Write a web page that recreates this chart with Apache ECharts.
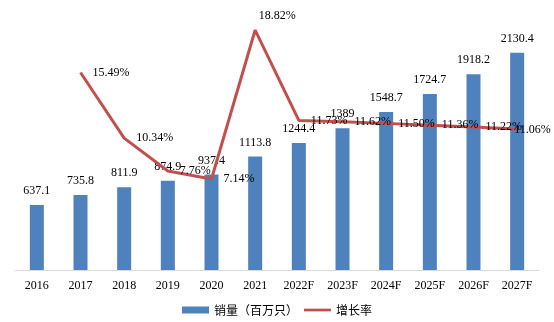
<!DOCTYPE html>
<html>
<head>
<meta charset="utf-8">
<script src="https://cdn.jsdelivr.net/npm/echarts@6/dist/echarts.min.js"></script>
<style>
  html, body { margin: 0; padding: 0; background: #fff; }
  #chart { width: 554px; height: 322px; }
</style>
</head>
<body>
<div id="chart"></div>
<script>
// Years (F = forecast)
const categories = ['2016', '2017', '2018', '2019', '2020', '2021', '2022F', '2023F', '2024F', '2025F', '2026F', '2027F'];
// Sales volume, millions of units
const sales = [637.1, 735.8, 811.9, 874.9, 937.4, 1113.8, 1244.4, 1389, 1548.7, 1724.7, 1918.2, 2130.4];
// Year-on-year growth, %
const growth = [null, 15.49, 10.34, 7.76, 7.14, 18.82, 11.73, 11.62, 11.50, 11.36, 11.22, 11.06];

const seriesNames = ['销量（百万只）', '增长率'];

const serif = '"Times New Roman", "Liberation Serif", serif';
const cjk = '"Noto Sans CJK SC", sans-serif';

// Growth points: the peak label sits above the point, the last one is pulled
// back inside the chart edge; the rest go to the right of their point.
const growthData = growth.map((v, i) => {
  if (v === null) return '-';
  if (categories[i] === '2021') {
    return { value: v, label: { position: 'top', distance: 8, offset: [22, 0] } };
  }
  if (i === categories.length - 1) {
    return { value: v, label: { position: 'right', distance: 0, offset: [-3, 1] } };
  }
  return v;
});

const chart = echarts.init(document.getElementById('chart'));
chart.setOption({
  animation: false,
  grid: { left: 15, right: 15, top: 15, bottom: 52 },
  legend: {
    bottom: 1,
    left: 'center',
    itemGap: 6,
    itemWidth: 27,
    itemHeight: 7,
    textStyle: { fontFamily: cjk, fontSize: 12, color: '#000' },
    data: [
      { name: seriesNames[0], icon: 'rect' },
      { name: seriesNames[1], icon: 'path://M0,0 L30,0 L30,3 L0,3 Z' }
    ]
  },
  xAxis: {
    type: 'category',
    data: categories,
    axisLine: { lineStyle: { color: '#d9d9d9', width: 1 } },
    axisTick: { show: false },
    axisLabel: { fontFamily: serif, fontSize: 12, color: '#000', margin: 10 }
  },
  yAxis: [
    { type: 'value', min: 0, max: 2500, show: false, splitLine: { show: false } },
    { type: 'value', min: 0, max: 20, show: false, splitLine: { show: false } }
  ],
  series: [
    {
      name: seriesNames[0],
      type: 'bar',
      data: sales,
      barWidth: 14,
      itemStyle: { color: '#4f81bd' },
      label: {
        show: true,
        position: 'top',
        distance: 8,
        fontFamily: serif,
        fontSize: 12,
        color: '#000'
      }
    },
    {
      name: seriesNames[1],
      type: 'line',
      yAxisIndex: 1,
      data: growthData,
      symbol: 'circle',
      symbolSize: 0,
      showSymbol: true,
      lineStyle: { color: '#c0504d', width: 3 },
      itemStyle: { color: '#c0504d' },
      label: {
        show: true,
        position: 'right',
        distance: 12,
        fontFamily: serif,
        fontSize: 12,
        color: '#000',
        formatter: p => p.value.toFixed(2) + '%'
      },
      z: 3
    }
  ]
});
</script>
</body>
</html>
